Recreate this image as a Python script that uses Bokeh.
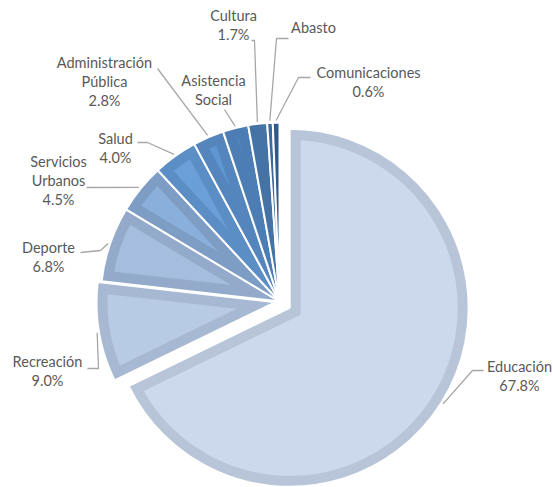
import numpy as np
from bokeh.plotting import figure
from bokeh.models import Range1d, ColumnDataSource
from bokeh.core.properties import value
from bokeh.embed import file_html
from bokeh.resources import INLINE

# ---------------- data ----------------
categories = ["Educación", "Recreación", "Deporte", "Servicios Urbanos", "Salud",
              "Administración Pública", "Asistencia Social", "Cultura", "Abasto",
              "Comunicaciones"]
shares = [67.8, 9.0, 6.8, 4.5, 4.0, 2.8, 2.3, 1.7, 0.5, 0.6]
show_pct = [True, True, True, True, True, True, False, True, False, True]

# ---------------- style / layout ----------------
label_lines = {
    "Servicios Urbanos": ["Servicios", "Urbanos"],
    "Administración Pública": ["Administración", "Pública"],
    "Asistencia Social": ["Asistencia", "Social"],
}
frame_colors = ["#B8C4D7", "#A6B8D2", "#93AACB", "#7D9DC5", "#5B8EC4",
                "#5486BD", "#4C7EB5", "#4673A6", "#3F6A99", "#31598A"]
inner_colors = ["#CCD9EC", "#B8CBE5", "#A5BEDF", "#8BAFDB", "#6A9FD8",
                "#5E97D2", "#5086C0", "#4878AC", "#416D9D", "#335C8C"]
explode = [12, 4, 0, 0, 0, 0, 0, 0, 0, 0]
frame_w = 11
W, H = 553, 487


def Y(py):  # page pixel row -> data y
    return H - py


CX, CY, R = 279, Y(301), 179

# label block: centre x, first line y (page px), leader elbow points (page px)
label_pos = {
    "Educación": (519, 366, [(483, 370), (472, 370)]),
    "Recreación": (47, 361, [(87, 368), (98, 368)]),
    "Deporte": (48, 247, [(80, 252), (100, 250)]),
    "Servicios Urbanos": (58, 161, [(86, 187)]),
    "Salud": (115, 138, [(137, 142), (147, 142)]),
    "Administración Pública": (104, 62, [(157, 68)]),
    "Asistencia Social": (213, 80, [(224, 109)]),
    "Cultura": (233, 15, [(251, 40), (254, 40)]),
    "Abasto": (313, 27, [(288, 38), (276, 38)]),
    "Comunicaciones": (368, 72, [(310, 77), (298, 77)]),
}
LINE_GAP = 19

p = figure(width=W, height=H, output_backend="svg", toolbar_location=None,
           x_range=Range1d(0, W), y_range=Range1d(0, H),
           min_border=0)
p.axis.visible = False
p.grid.visible = False
p.outline_line_color = None
p.background_fill_color = "white"
p.border_fill_color = "white"

vals = np.array(shares, dtype=float)
frac = vals / vals.sum()
cum_end = np.cumsum(frac)
cum_start = cum_end - frac

for i, cat in enumerate(categories):
    a1 = np.pi / 2 - 2 * np.pi * cum_end[i]
    a2 = np.pi / 2 - 2 * np.pi * cum_start[i]
    mid = (a1 + a2) / 2
    cx = CX + explode[i] * np.cos(mid)
    cy = CY + explode[i] * np.sin(mid)
    p.wedge(x=[cx], y=[cy], radius=R, start_angle=a1, end_angle=a2,
            fill_color=frame_colors[i], line_color="white", line_width=2)
    # inner lighter region (slice inset by the frame width)
    theta = a2 - a1
    rin = R - frame_w
    phi = np.arcsin(frame_w / rin)
    if theta - 2 * phi > 0.002:
        dist = frame_w / np.sin(theta / 2)
        if dist < rin - 2:
            ang = np.linspace(a1 + phi, a2 - phi, 120)
            xs = [cx + dist * np.cos(mid)] + list(cx + rin * np.cos(ang))
            ys = [cy + dist * np.sin(mid)] + list(cy + rin * np.sin(ang))
            p.patch(xs, ys, fill_color=inner_colors[i], line_color=None)

    # leader line
    lx, ly0, elbow = label_pos[cat]
    ex = cx + (R + 2) * np.cos(mid)
    ey = cy + (R + 2) * np.sin(mid)
    xs = [pt[0] for pt in elbow] + [ex]
    ys = [Y(pt[1]) for pt in elbow] + [ey]
    p.line(xs, ys, line_color="#A6A6A6", line_width=1.3)

    # label text
    lines = list(label_lines.get(cat, [cat]))
    if show_pct[i]:
        lines.append(f"{shares[i]:.1f}%")
    src = ColumnDataSource(dict(
        x=[lx] * len(lines),
        y=[Y(ly0 + k * LINE_GAP) for k in range(len(lines))],
        t=lines))
    p.text(x="x", y="y", text="t", source=src,
           text_font=value("Lato"), text_font_size="14.5px",
           text_color="#595959", text_align="center", text_baseline="middle")

open("out.html", "w").write(file_html(p, INLINE))
